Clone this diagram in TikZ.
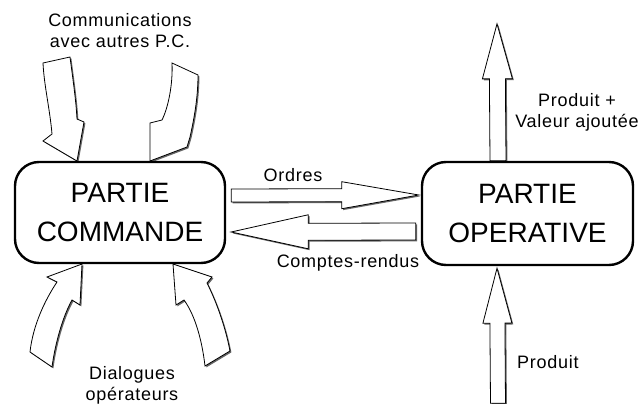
\documentclass[tikz,border=0pt]{standalone}
\usepackage{fontspec}
\setmainfont{Liberation Sans}
\usetikzlibrary{calc,backgrounds}
\tikzset{
  pbox/.style={draw=black, line width=2.4pt, rounded corners=24pt, fill=white,
    inner sep=0pt, align=center, font=\fontsize{28}{39}\selectfont},
  lbl/.style={inner sep=0pt, align=center, font=\fontsize{18}{21}\selectfont\addfontfeatures{LetterSpace=4}},
  barrow/.style={fill=white, draw=black, line width=0.8pt, line join=miter},
  bshadow/.style={fill=black!60, transform canvas={shift={(1.4pt,-1.4pt)}}}
}
% straight block arrow: from, to, shaft half width, head half width, head length
\newcommand\blkarrow[5]{%
  \coordinate (hb) at ($(#2)!#5!(#1)$);
  \fill[bshadow] ($(#1)!#3!90:(#2)$) -- ($(hb)!#3!-90:(#1)$) -- ($(hb)!#4!-90:(#1)$) -- (#2)
     -- ($(hb)!#4!90:(#1)$) -- ($(hb)!#3!90:(#1)$) -- ($(#1)!#3!-90:(#2)$) -- cycle;
  \filldraw[barrow] ($(#1)!#3!90:(#2)$) -- ($(hb)!#3!-90:(#1)$) -- ($(hb)!#4!-90:(#1)$) -- (#2)
     -- ($(hb)!#4!90:(#1)$) -- ($(hb)!#3!90:(#1)$) -- ($(#1)!#3!-90:(#2)$) -- cycle;
}
\newcommand\curvarrow[1]{%
  \fill[bshadow] #1;
  \filldraw[barrow] #1;
}
\begin{document}
\begin{tikzpicture}[x=1pt,y=-1pt]
\useasboundingbox (0,0) rectangle (640,404);
\begin{scope}[on background layer]
  \fill[white] (0,0) rectangle (640,404);
\end{scope}

\node[pbox, minimum width=210pt, minimum height=101pt] (cmd) at (120,212.5) {PARTIE\\COMMANDE};
\node[pbox, minimum width=211pt, minimum height=103pt] (opr) at (527.5,213.5) {PARTIE\\OPERATIVE};

\node[lbl] (comm) at (120,31) {Communications\\avec autres P.C.};
\node[lbl] (dial) at (132,385) {Dialogues\\opérateurs};
\node[lbl] (pva) at (577,112) {Produit +\\Valeur ajoutée};
\node[lbl] (ord) at (293,175) {Ordres};
\node[lbl] (cr) at (348,263) {Comptes-rendus};
\node[lbl, anchor=west] (prod) at (517,362) {Produit};

\coordinate (t1) at ($(cmd.east)+(5,-17)$);
\coordinate (t2) at ($(opr.west)+(-2,-18.5)$);
\coordinate (c1) at ($(opr.west)+(-5,18)$);
\coordinate (c2) at ($(cmd.east)+(5,19.5)$);
\coordinate (p1) at ($(opr.north)+(-29.5,0)$);
\coordinate (p2) at ($(opr.north)+(-30.5,-137)$);
\coordinate (q1) at ($(opr.south)+(-29.5,137)$);
\coordinate (q2) at ($(opr.south)+(-30.5,2)$);

\begin{scope}[on background layer]
  \blkarrow{t1}{t2}{6.5pt}{13.5pt}{77pt}
  \blkarrow{c1}{c2}{8.5pt}{17pt}{77pt}
  \blkarrow{p1}{p2}{8pt}{15pt}{55pt}
  \blkarrow{q1}{q2}{7.5pt}{14.5pt}{55pt}
  \begin{scope}[shift={($(cmd.center)+(-120,-212.5)$)}]
    % top-left
    \curvarrow{(43,63) -- (70,57) .. controls (73,80) and (76,100) .. (77,119) -- (84,122)
      -- (77,161) -- (43,141) -- (52,134) .. controls (50,110) and (44,85) .. (43,63) -- cycle}
    % top-right
    \curvarrow{(198,75) -- (172,63) .. controls (173,85) and (168,108) .. (162,120) -- (150,123)
      -- (150,161) -- (187,147) -- (190,137) .. controls (195,115) and (198,95) .. (198,75) -- cycle}
    % bottom-left
    \curvarrow{(82,264) -- (47,277) -- (57,282) .. controls (45,300) and (33,325) .. (30,352)
      -- (52,367) .. controls (55,345) and (62,318) .. (72,300) -- (80,305) -- cycle}
    % bottom-right
    \curvarrow{(173,264) -- (212,277) -- (207,283) .. controls (218,305) and (226,330) .. (230,351)
      -- (205,366) .. controls (202,340) and (195,315) .. (184,300) -- (176,305) -- cycle}
  \end{scope}
\end{scope}
\end{tikzpicture}
\end{document}
